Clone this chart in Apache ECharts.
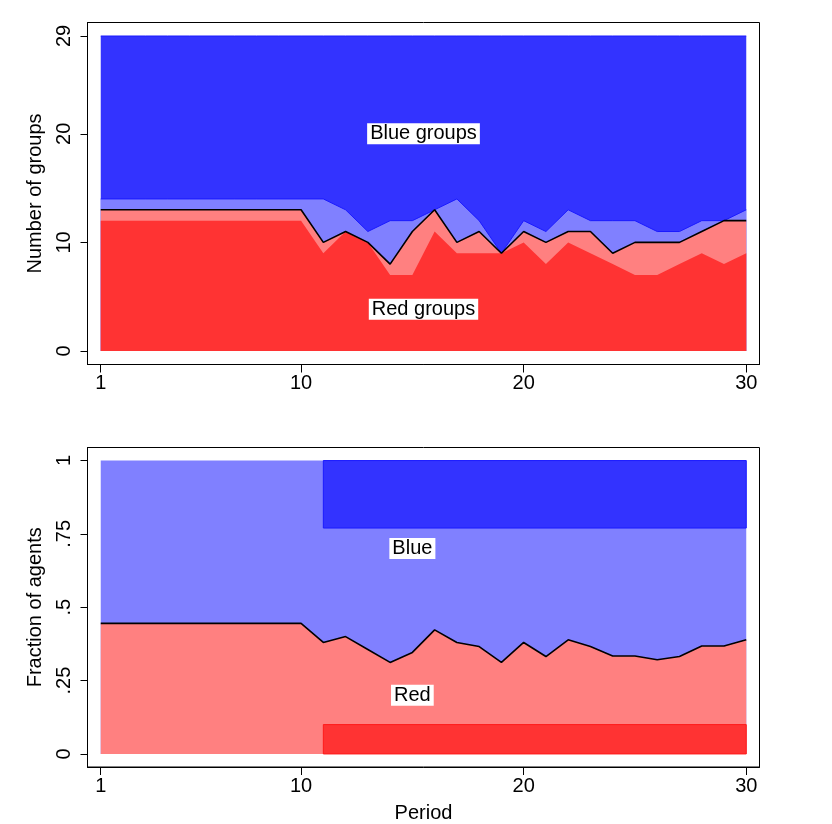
<!DOCTYPE html>
<html>
<head>
<meta charset="utf-8">
<script src="https://cdn.jsdelivr.net/npm/echarts@6/dist/echarts.min.js"></script>
<style>html,body{margin:0;padding:0;background:#fff;}#c{width:832px;height:824px;}</style>
</head>
<body>
<div id="c"></div>
<script>
// ---- data ----
const periods = [1,2,3,4,5,6,7,8,9,10,11,12,13,14,15,16,17,18,19,20,21,22,23,24,25,26,27,28,29,30];
// top panel: boundaries of stacked regions (number of groups)
const darkRedGroups  = [12,12,12,12,12,12,12,12,12,12, 9,11,10, 7, 7,11, 9, 9, 9,10, 8,10, 9, 8, 7, 7, 8, 9, 8, 9];
const redGroupsTotal = [13,13,13,13,13,13,13,13,13,13,10,11,10, 8,11,13,10,11, 9,11,10,11,11, 9,10,10,10,11,12,12];
const lightBlueTop   = [14,14,14,14,14,14,14,14,14,14,14,13,11,12,12,13,14,12, 9,12,11,13,12,12,12,11,11,12,12,13];
const totalGroups    = [29,29,29,29,29,29,29,29,29,29,29,29,29,29,29,29,29,29,29,29,29,29,29,29,29,29,29,29,29,29];
// bottom panel: fraction of agents
const redFraction = [0.445,0.445,0.445,0.445,0.445,0.445,0.445,0.445,0.445,0.445,
                     0.380,0.400,0.356,0.312,0.346,0.423,0.380,0.366,0.312,0.380,
                     0.332,0.389,0.366,0.334,0.334,0.321,0.332,0.368,0.368,0.389];
const allAgents = [1,1,1,1,1,1,1,1,1,1,1,1,1,1,1,1,1,1,1,1,1,1,1,1,1,1,1,1,1,1];
// constant bands from period 11 to 30: [startPeriod, endPeriod, low, high]
const blueBand = [11, 30, 0.77, 1];
const redBand  = [11, 30, 0, 0.10];
const xTicks = [1,10,20,30];
const topYTicks = [0,10,20,29];
const botYTicks = [0,0.25,0.5,0.75,1];
const botYTickLabels = {0:'0',0.25:'.25',0.5:'.5',0.75:'.75',1:'1'};
const topLabels = [[15.5,20,'Blue groups'],[15.5,3.85,'Red groups']];
const botLabels = [[15,0.70,'Blue'],[15,0.20,'Red']];

// ---- colours ----
const C = {dblue:'#3333ff', lblue:'#8080ff', lred:'#ff8080', dred:'#ff3333', eblue:'#1a1aff', ered:'#ff1a1a'};
const FONT = 'Liberation Sans, Arial, Helvetica, sans-serif';
const zip = (xs, ys) => xs.map((x,i)=>[x, ys[i]]);

const chart = echarts.init(document.getElementById('c'), null, {renderer:'canvas'});

function xAxis(gridIndex, name){
  return {
    type:'value', gridIndex, min:0.405, max:30.595,
    name: name || '', nameLocation:'middle', nameGap:36,
    nameTextStyle:{fontFamily:FONT, fontSize:20, color:'#000'},
    axisLine:{show:true, onZero:false, lineStyle:{color:'#000', width:1}},
    axisTick:{show:true, length:8, customValues:xTicks, lineStyle:{color:'#000', width:1}},
    axisLabel:{customValues:xTicks, fontFamily:FONT, fontSize:20, color:'#000', margin:9},
    splitLine:{show:false}
  };
}
function yAxis(gridIndex, name, min, max, ticks, fmt){
  return {
    type:'value', gridIndex, min, max,
    name, nameLocation:'middle', nameGap:42, nameRotate:90,
    nameTextStyle:{fontFamily:FONT, fontSize:20, color:'#000'},
    axisLine:{show:true, onZero:false, lineStyle:{color:'#000', width:1}},
    axisTick:{show:true, length:7, customValues:ticks, lineStyle:{color:'#000', width:1}},
    axisLabel:{customValues:ticks, rotate:90, fontFamily:FONT, fontSize:20, color:'#000', margin:13,
               formatter: fmt || (v=>String(v))},
    splitLine:{show:false}
  };
}
function area(xi, yi, data, color, lineColor, z){
  return {
    type:'line', xAxisIndex:xi, yAxisIndex:yi, data, symbol:'none', animation:false, z,
    lineStyle:{color: lineColor || color, width: lineColor ? 1 : 0},
    areaStyle:{color, opacity:1, origin:'auto'}
  };
}
function band(xi, yi, b, color, edge, z){
  return {
    type:'custom', xAxisIndex:xi, yAxisIndex:yi, data:[b], z, animation:false,
    encode:{x:[0,1], y:[2,3]},
    renderItem:(params, api)=>{
      const p0 = api.coord([api.value(0), api.value(3)]);
      const p1 = api.coord([api.value(1), api.value(2)]);
      return {type:'rect', shape:{x:p0[0], y:p0[1], width:p1[0]-p0[0], height:p1[1]-p0[1]},
              style:{fill:color, stroke:edge, lineWidth:1}};
    }
  };
}
function labels(xi, yi, data){
  return {
    type:'scatter', xAxisIndex:xi, yAxisIndex:yi, data, symbolSize:0, z:20, animation:false,
    itemStyle:{opacity:1},
    label:{show:true, position:'inside', formatter:p=>p.value[2], fontFamily:FONT, fontSize:20,
           color:'#000', backgroundColor:'#fff', padding:[1,3,0,3], opacity:1}
  };
}

chart.setOption({
  backgroundColor:'#fff',
  animation:false,
  grid:[
    {left:87.5, right:72.5, top:22.5, height:342, show:true, borderColor:'#000', borderWidth:1, backgroundColor:'#fff'},
    {left:87.5, right:72.5, top:447.5, height:320.5, show:true, borderColor:'#000', borderWidth:1, backgroundColor:'#fff'}
  ],
  xAxis:[ xAxis(0), xAxis(1,'Period') ],
  yAxis:[
    yAxis(0,'Number of groups',-1.243,30.243, topYTicks),
    yAxis(1,'Fraction of agents',-0.0445,1.0445, botYTicks, v=>botYTickLabels[v] !== undefined ? botYTickLabels[v] : String(v))
  ],
  series:[
    // top panel
    area(0,0, zip(periods,totalGroups), C.dblue, C.eblue, 2),
    area(0,0, zip(periods,lightBlueTop), C.lblue, C.eblue, 3),
    area(0,0, zip(periods,redGroupsTotal), C.lred, null, 4),
    area(0,0, zip(periods,darkRedGroups), C.dred, null, 5),
    {type:'line', xAxisIndex:0, yAxisIndex:0, data:zip(periods,redGroupsTotal), symbol:'none', z:6,
     animation:false, lineStyle:{color:'#000', width:1.6}},
    labels(0,0, topLabels),
    // bottom panel
    area(1,1, zip(periods,allAgents), C.lblue, null, 2),
    area(1,1, zip(periods,redFraction), C.lred, null, 3),
    band(1,1, blueBand, C.dblue, C.eblue, 4),
    band(1,1, redBand, C.dred, C.ered, 4),
    {type:'line', xAxisIndex:1, yAxisIndex:1, data:zip(periods,redFraction), symbol:'none', z:7,
     animation:false, lineStyle:{color:'#000', width:1.6}},
    labels(1,1, botLabels)
  ]
});
</script>
</body>
</html>
